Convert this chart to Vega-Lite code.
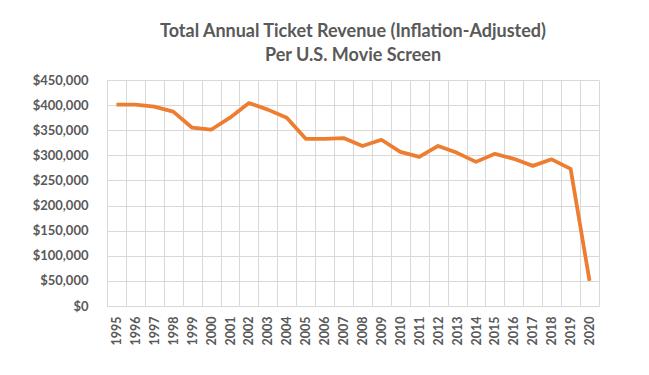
{
  "$schema": "https://vega.github.io/schema/vega-lite/v6.json",
  "width": 492,
  "height": 226,
  "autosize": {"type": "none"},
  "padding": {"left": 107, "top": 80, "right": 50, "bottom": 69},
  "background": "white",
  "title": {
    "text": ["Total Annual Ticket Revenue (Inflation-Adjusted)", "Per U.S. Movie Screen"],
    "anchor": "middle",
    "font": "Lato",
    "fontSize": 18,
    "fontWeight": "bold",
    "color": "#595959",
    "lineHeight": 24,
    "offset": 9
  },
  "data": {
    "values": [
      {"year": "1995", "revenue": 401000},
      {"year": "1996", "revenue": 401000},
      {"year": "1997", "revenue": 397000},
      {"year": "1998", "revenue": 387000},
      {"year": "1999", "revenue": 355000},
      {"year": "2000", "revenue": 351000},
      {"year": "2001", "revenue": 375000},
      {"year": "2002", "revenue": 404000},
      {"year": "2003", "revenue": 391000},
      {"year": "2004", "revenue": 375000},
      {"year": "2005", "revenue": 333000},
      {"year": "2006", "revenue": 333000},
      {"year": "2007", "revenue": 334500},
      {"year": "2008", "revenue": 318600},
      {"year": "2009", "revenue": 331000},
      {"year": "2010", "revenue": 307000},
      {"year": "2011", "revenue": 297000},
      {"year": "2012", "revenue": 318600},
      {"year": "2013", "revenue": 305000},
      {"year": "2014", "revenue": 287000},
      {"year": "2015", "revenue": 303000},
      {"year": "2016", "revenue": 293000},
      {"year": "2017", "revenue": 279000},
      {"year": "2018", "revenue": 292000},
      {"year": "2019", "revenue": 273000},
      {"year": "2020", "revenue": 50000}
    ]
  },
  "mark": {"type": "line", "color": "#ED7D31", "strokeWidth": 3.75, "strokeJoin": "round"},
  "encoding": {
    "x": {
      "field": "year",
      "type": "ordinal",
      "scale": {"type": "band", "paddingInner": 0, "paddingOuter": 0},
      "axis": {
        "title": null,
        "labelAngle": -90,
        "labelFont": "Lato",
        "labelFontSize": 12.5,
        "labelFontWeight": "bold",
        "labelColor": "#595959",
        "labelPadding": 10,
        "ticks": false,
        "tickBand": "extent",
        "grid": true,
        "gridColor": "#d9d9d9",
        "gridWidth": 1,
        "domainColor": "#d9d9d9",
        "domainWidth": 1
      }
    },
    "y": {
      "field": "revenue",
      "type": "quantitative",
      "scale": {"domain": [0, 450000], "nice": false},
      "axis": {
        "title": null,
        "values": [0, 50000, 100000, 150000, 200000, 250000, 300000, 350000, 400000, 450000],
        "format": "$,.0f",
        "labelFont": "Lato",
        "labelFontSize": 13,
        "labelFontWeight": "bold",
        "labelColor": "#595959",
        "labelPadding": 19,
        "ticks": false,
        "domain": false,
        "grid": true,
        "gridColor": "#d9d9d9",
        "gridWidth": 1
      }
    }
  },
  "config": {"view": {"stroke": null}}
}
